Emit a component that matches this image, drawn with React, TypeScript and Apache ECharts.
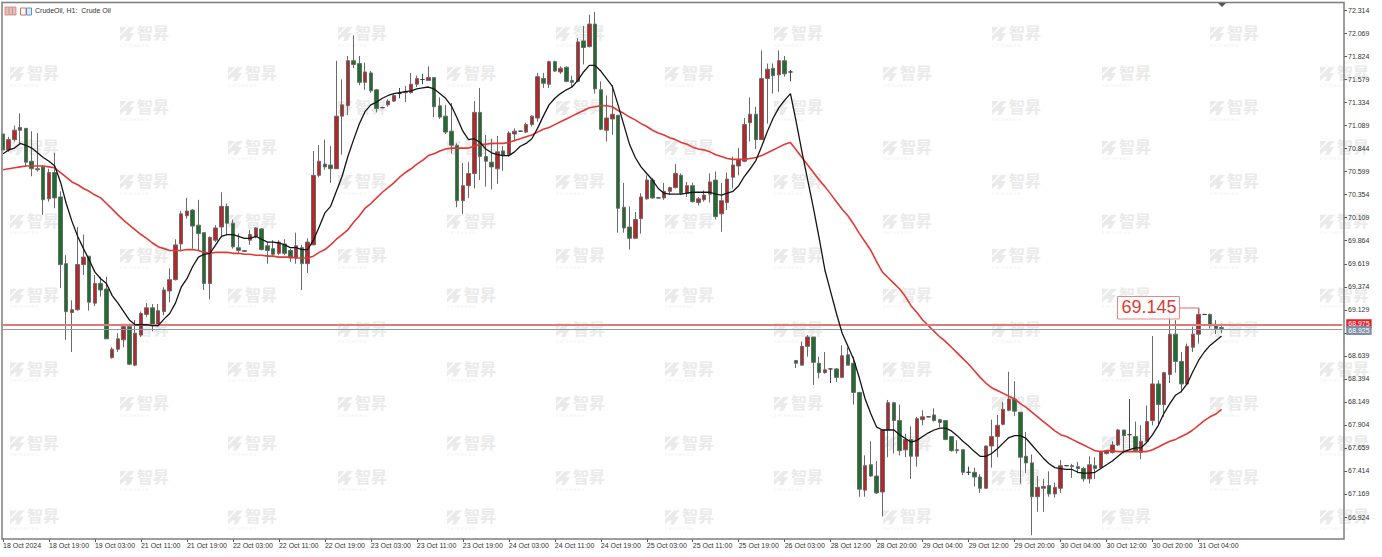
import React, { useEffect, useRef } from "react";
import * as echarts from "echarts";

// Bar rows: open, close, low, high
const candles: number[][] = [
[71.00,70.83,70.83,71.00],[70.83,70.94,70.81,70.97],[70.94,71.04,70.92,71.09],[71.04,71.07,70.90,71.22],[71.06,70.70,70.65,71.06],
[70.71,70.63,70.55,71.03],[70.63,70.62,70.60,71.01],[70.65,70.30,70.14,70.67],[70.31,70.59,70.28,70.63],[70.59,70.32,70.21,70.80],
[70.33,69.61,69.36,70.39],[69.62,69.11,68.81,69.71],[69.10,69.13,68.68,69.23],[69.13,69.61,69.12,70.01],[69.61,69.69,69.50,69.93],
[69.70,69.21,69.12,69.70],[69.20,69.41,69.17,69.50],[69.41,69.34,69.27,69.48],[69.35,68.82,68.82,69.48],[68.62,68.71,68.61,68.73],
[68.71,68.82,68.68,68.88],[68.81,68.95,68.73,68.96],[68.95,68.55,68.54,68.98],[68.54,68.88,68.53,69.02],[68.86,69.09,68.84,69.11],
[69.08,69.15,69.05,69.20],[69.15,68.96,68.90,69.19],[68.96,69.12,68.95,69.19],[69.11,69.34,69.07,69.37],[69.33,69.45,69.21,69.57],
[69.45,69.82,69.44,69.88],[69.83,70.15,69.75,70.18],[70.13,70.18,70.10,70.32],[70.19,70.02,69.78,70.20],[70.03,69.94,69.75,70.30],
[69.95,69.41,69.34,69.95],[69.41,69.90,69.24,69.91],[69.87,70.00,69.85,70.03],[70.01,70.23,69.91,70.38],[70.23,70.05,69.93,70.26],
[70.05,69.80,69.78,70.09],[69.79,69.76,69.73,69.94],[69.76,69.75,69.75,69.76],[69.87,69.93,69.82,69.98],[69.91,70.00,69.89,70.01],
[69.99,69.77,69.76,70.00],[69.81,69.76,69.62,69.85],[69.78,69.72,69.70,69.87],[69.73,69.85,69.71,69.87],[69.83,69.73,69.71,69.88],
[69.76,69.68,69.64,69.78],[69.68,69.81,69.62,69.95],[69.79,69.62,69.34,69.82],[69.62,69.85,69.52,69.89],[69.82,70.56,69.82,70.82],
[70.56,70.71,70.54,70.88],[70.68,70.65,70.62,70.94],[70.67,70.63,70.48,70.87],[70.63,71.19,70.63,71.78],[71.19,71.31,70.78,71.58],
[71.30,71.78,71.20,71.83],[71.78,71.74,71.70,72.05],[71.75,71.55,71.52,71.83],[71.55,71.66,71.47,71.76],[71.65,71.46,71.44,71.67],
[71.47,71.27,71.23,71.48],[71.28,71.28,71.28,71.29],[71.31,71.35,71.29,71.37],[71.35,71.41,71.34,71.43],[71.43,71.43,71.38,71.49],
[71.45,71.44,71.34,71.51],[71.44,71.53,71.43,71.65],[71.53,71.59,71.50,71.62],[71.58,71.58,71.53,71.64],[71.57,71.60,71.57,71.72],
[71.60,71.29,71.18,71.60],[71.30,71.18,71.16,71.39],[71.19,71.02,71.00,71.31],[71.03,70.88,70.79,71.33],[70.88,70.29,70.22,70.90],
[70.29,70.45,70.15,70.69],[70.45,70.58,70.32,70.70],[70.58,71.23,70.42,71.35],[71.23,70.76,70.51,71.49],[70.76,70.71,70.44,70.99],
[70.70,70.65,70.41,70.95],[70.63,70.81,70.47,70.98],[70.82,70.77,70.61,70.87],[70.78,71.01,70.76,71.03],[71.00,71.03,70.92,71.06],
[71.03,71.03,71.03,71.03],[71.02,71.10,71.01,71.12],[71.10,71.19,71.08,71.20],[71.17,71.61,71.13,71.65],[71.59,71.54,71.49,71.65],
[71.53,71.77,71.49,71.78],[71.77,71.67,71.66,71.78],[71.66,71.70,71.64,71.72],[71.71,71.56,71.55,71.72],[71.57,71.55,71.50,71.62],
[71.56,71.98,71.55,72.02],[71.99,71.92,71.74,72.15],[71.93,72.17,71.92,72.27],[72.17,71.48,71.43,72.30],[71.47,71.05,71.04,71.56],
[71.04,71.17,70.92,71.41],[71.16,71.21,70.99,71.52],[71.20,70.21,69.95,71.20],[70.22,70.00,69.95,70.48],[70.01,69.89,69.77,70.23],
[69.89,70.09,69.89,70.17],[70.10,70.33,69.94,70.37],[70.31,70.51,70.30,70.56],[70.51,70.32,70.31,70.53],[70.32,70.32,70.32,70.32],
[70.32,70.39,70.30,70.48],[70.39,70.43,70.35,70.44],[70.43,70.58,70.42,70.68],[70.56,70.37,70.35,70.58],[70.37,70.45,70.33,70.49],
[70.45,70.28,70.27,70.48],[70.27,70.31,70.24,70.33],[70.30,70.35,70.28,70.40],[70.36,70.49,70.27,70.58],[70.51,70.12,70.09,70.60],
[70.15,70.29,69.96,70.48],[70.27,70.52,70.19,70.59],[70.54,70.67,70.42,70.76],[70.66,70.73,70.56,70.85],[70.71,71.10,70.70,71.17],
[71.12,71.21,70.92,71.39],[71.21,70.94,70.84,71.29],[70.94,71.59,70.94,71.89],[71.59,71.69,71.11,71.75],[71.70,71.62,71.43,71.75],
[71.63,71.78,71.45,71.89],[71.78,71.64,71.61,71.83],[71.66,71.66,71.56,71.68],[68.59,68.56,68.51,68.59],[68.54,68.74,68.54,68.79],
[68.74,68.84,68.63,68.86],[68.84,68.57,68.33,68.84],[68.56,68.46,68.40,68.63],[68.46,68.49,68.45,68.68],[68.50,68.50,68.35,68.50],
[68.50,68.41,68.36,68.51],[68.41,68.64,68.40,68.75],[68.65,68.54,68.54,68.73],[68.56,68.25,68.12,68.63],[68.25,67.22,67.14,68.25],
[67.21,67.47,67.14,67.58],[67.48,67.36,67.35,67.73],[67.36,67.18,67.17,67.52],[67.19,67.85,66.93,67.85],[67.85,68.14,67.56,68.17],
[68.14,67.95,67.60,68.15],[67.95,67.63,67.58,68.12],[67.64,67.75,67.56,67.81],[67.75,67.57,67.33,67.89],[67.57,67.97,67.46,67.99],
[67.96,67.99,67.90,68.06],[67.99,67.99,67.99,67.99],[68.01,67.95,67.94,68.08],[67.96,67.93,67.88,67.97],[67.95,67.75,67.74,67.95],
[67.78,67.63,67.62,67.78],[67.64,67.63,67.60,67.74],[67.64,67.40,67.37,67.64],[67.40,67.40,67.37,67.46],[67.40,67.35,67.25,67.45],
[67.35,67.23,67.18,67.38],[67.23,67.68,67.23,67.68],[67.68,67.78,67.45,67.96],[67.78,67.90,67.56,68.01],[67.91,68.07,67.90,68.15],
[68.06,68.18,68.05,68.47],[68.18,68.05,68.00,68.37],[68.04,67.56,67.28,68.04],[67.57,67.50,67.39,67.83],[67.50,67.14,66.73,67.59],
[67.14,67.24,66.98,67.36],[67.23,67.25,66.98,67.33],[67.26,67.17,67.14,67.41],[67.17,67.24,67.13,67.29],[67.23,67.47,67.18,67.53],
[67.47,67.47,67.47,67.47],[67.47,67.46,67.34,67.49],[67.46,67.44,67.39,67.51],[67.44,67.33,67.30,67.46],[67.33,67.48,67.28,67.57],
[67.47,67.44,67.33,67.56],[67.45,67.62,67.44,67.63],[67.60,67.63,67.59,67.64],[67.61,67.69,67.60,67.73],[67.69,67.85,67.68,67.86],
[67.85,67.79,67.60,67.85],[67.80,67.80,67.65,68.18],[67.78,67.63,67.62,67.94],[67.61,67.73,67.54,67.90],[67.73,67.94,67.72,68.11],
[67.95,68.34,67.90,68.85],[68.34,68.12,67.90,68.38],[68.12,68.46,67.99,68.47],[68.44,68.87,68.35,69.12],[68.87,68.58,68.46,69.02],
[68.58,68.34,68.25,68.68],[68.34,68.74,68.33,68.77],[68.73,68.87,68.68,68.95],[68.87,69.08,68.77,69.145],[69.08,69.08,69.08,69.08],
[69.08,68.96,68.93,69.09],[68.97,68.93,68.87,69.02],[68.94,68.93,68.88,68.98],
];

const blackLine: number[] = [
70.79,70.83,70.85,70.90,70.88,70.85,70.80,70.75,70.71,70.66,70.49,70.26,70.07,69.91,69.78,69.66,69.53,69.46,69.41,69.28,69.20,69.11,69.02,68.97,68.97,68.97,68.96,68.96,69.03,69.09,69.20,69.37,
69.46,69.59,69.69,69.72,69.73,69.82,69.91,69.93,69.93,69.91,69.89,69.89,69.91,69.88,69.85,69.85,69.84,69.82,69.79,69.79,69.77,69.77,69.87,70.01,70.16,70.23,70.39,70.55,70.76,
70.94,71.11,71.24,71.31,71.34,71.38,71.41,71.43,71.44,71.45,71.46,71.48,71.49,71.50,71.48,71.43,71.38,71.30,71.17,71.03,70.94,70.95,70.91,70.84,70.80,70.78,70.77,70.77,70.81,70.87,70.90,70.95,71.06,71.19,71.31,71.38,71.43,71.47,71.50,71.57,71.66,71.73,71.73,71.67,71.59,71.51,71.31,71.10,70.89,70.75,70.65,70.58,70.51,70.42,70.37,70.36,70.36,70.36,70.37,70.38,70.38,
70.38,70.38,70.36,70.35,70.37,70.39,70.45,70.55,70.63,70.72,70.87,71.03,71.17,71.28,71.36,71.43,
71.13,70.81,70.51,70.21,69.89,69.55,
69.32,69.09,68.88,68.74,68.60,68.40,68.18,68.02,67.88,67.85,67.85,67.85,67.80,67.76,67.72,67.74,67.78,67.82,67.85,67.87,67.87,67.84,67.79,67.73,67.68,67.62,67.57,67.57,67.60,67.65,67.71,67.77,67.79,67.79,67.76,67.69,67.62,67.55,67.49,67.45,67.44,67.43,67.43,67.40,67.39,67.39,67.40,67.44,
67.48,67.52,67.57,67.62,67.64,67.66,67.66,67.72,67.80,67.90,68.03,68.13,68.22,68.26,68.34,68.47,68.59,68.68,68.75,68.80,68.85,
];

const redLine: number[] = [
70.62,70.63,70.64,70.65,70.66,70.66,70.66,70.66,70.65,70.64,70.59,70.54,70.49,70.46,70.42,70.39,70.35,70.32,70.26,70.20,70.14,70.08,70.03,69.98,69.93,69.89,69.84,69.80,69.78,69.76,69.76,69.76,69.77,69.77,69.76,69.74,69.73,69.74,69.74,69.74,69.73,69.73,69.72,69.72,69.71,69.71,69.70,69.70,69.69,69.69,69.69,69.68,69.68,69.68,69.70,69.74,69.77,69.82,69.88,69.93,69.98,
70.06,70.13,70.21,70.26,70.32,70.38,70.43,70.48,70.54,70.59,70.63,70.68,70.72,70.77,70.79,70.82,70.84,70.85,70.85,70.85,70.85,70.87,70.89,70.89,70.90,70.90,70.90,70.91,70.93,70.95,70.97,70.99,71.02,71.05,71.07,71.10,71.13,71.16,71.19,71.22,71.25,71.28,71.29,71.30,71.30,71.29,71.25,71.22,71.18,71.15,71.11,71.08,71.04,71.01,70.99,70.96,70.94,70.91,70.89,70.86,70.84,
70.83,70.81,70.78,70.76,70.74,70.73,70.73,70.73,70.74,70.75,70.77,70.80,70.83,70.86,70.89,70.91,
70.83,70.75,70.67,70.59,70.51,70.44,70.36,70.28,70.20,70.13,70.04,69.94,69.85,69.76,69.64,69.53,
69.47,69.41,69.35,69.27,69.17,69.10,69.02,68.96,68.90,68.84,68.79,68.73,68.67,68.61,68.55,68.48,68.41,68.35,68.30,68.27,68.24,68.21,68.18,68.13,68.09,68.04,67.99,67.94,67.89,67.84,67.80,67.78,67.75,67.72,67.69,67.66,67.63,67.62,
67.63,67.63,67.62,67.62,67.62,67.62,67.62,67.62,67.64,67.67,67.70,67.73,67.75,67.78,67.81,67.85,67.90,67.95,67.99,68.02,68.07,
];

const xTickLabels = [
  "18 Oct 2024", "18 Oct 19:00", "19 Oct 03:00", "21 Oct 11:00", "21 Oct 19:00", "22 Oct 03:00", "22 Oct 11:00",
  "22 Oct 19:00", "23 Oct 03:00", "23 Oct 11:00", "23 Oct 19:00", "24 Oct 03:00", "24 Oct 11:00", "24 Oct 19:00",
  "25 Oct 03:00", "25 Oct 11:00", "25 Oct 19:00", "26 Oct 03:00", "28 Oct 12:00", "28 Oct 20:00", "29 Oct 04:00",
  "29 Oct 12:00", "29 Oct 20:00", "30 Oct 04:00", "30 Oct 12:00", "30 Oct 20:00", "31 Oct 04:00",
];
const yTicks = [
  72.314, 72.069, 71.824, 71.579, 71.334, 71.089, 70.844, 70.599, 70.354, 70.109, 69.864, 69.619,
  69.374, 69.129, 68.884, 68.639, 68.394, 68.149, 67.904, 67.659, 67.414, 67.169, 66.924,
];
const askPrice = 68.975;
const bidPrice = 68.925;
const peakLabel = "69.145";
const chartTitle = "CrudeOil, H1:  Crude Oil";

const BARS_PER_TICK = 8;
const CATEGORY_COUNT = 234;
const categories = Array.from({ length: CATEGORY_COUNT }, (_, i) =>
  i % BARS_PER_TICK === 0 ? xTickLabels[i / BARS_PER_TICK] ?? "" : ""
);

const AXIS_FONT = "Liberation Sans";
const isTick = (i: number) => i % BARS_PER_TICK === 0 && !!xTickLabels[i / BARS_PER_TICK];

function watermarks() {
  const out: any[] = [];
  const color = "#eaeaea";
  const put = (x: number, y: number) => {
    out.push({ type: "polygon", z: -1, silent: true, shape: { points: [[x, y + 1], [x + 7, y + 1], [x, y + 8]] }, style: { fill: color } });
    out.push({ type: "polygon", z: -1, silent: true, shape: { points: [[x, y + 10], [x + 9, y + 1], [x + 15, y + 1], [x + 9, y + 7], [x + 14, y + 7], [x + 9, y + 15], [x + 5, y + 15], [x + 7, y + 11], [x + 4, y + 11], [x, y + 15]] }, style: { fill: color } });
    out.push({ type: "text", z: -1, silent: true, x: x + 17, y: y - 2, style: { text: "智昇", fill: color, font: "bold 16px 'Noto Sans CJK SC'" } });
    out.push({ type: "text", z: -1, silent: true, x, y: y + 17, style: { text: "Z H I S H E N G", fill: "#efefef", font: "4px 'Liberation Sans'" } });
  };
  for (let r = 0; r < 7; r++) {
    for (let c = 0; c < 6; c++) put(Math.round(120 + 218 * c), 26 + 74 * r);
    for (let c = 0; c < 7; c++) put(Math.round(10 + 218.3 * c), 66 + 73.9 * r);
  }
  return out;
}

function chrome() {
  const red = "#de3a34";
  return [
    { type: "rect", z: 50, silent: true, shape: { x: 2, y: 2.5, width: 1342, height: 536.5 }, style: { fill: "none", stroke: "#7d7d7d", lineWidth: 1.5 } },
    { type: "polygon", z: 51, silent: true, shape: { points: [[1218, 3], [1226, 3], [1222, 7]] }, style: { fill: "#555" } },
    // title icons
    { type: "rect", z: 51, silent: true, shape: { x: 5, y: 7, width: 11, height: 8 }, style: { fill: "#f4b9a8", stroke: "#d8705a", lineWidth: 0.7 } },
    { type: "line", z: 51, silent: true, shape: { x1: 9, y1: 7, x2: 9, y2: 15 }, style: { stroke: "#7fa4d8", lineWidth: 1 } },
    { type: "line", z: 51, silent: true, shape: { x1: 12.5, y1: 7, x2: 12.5, y2: 15 }, style: { stroke: "#7fa4d8", lineWidth: 1 } },
    { type: "rect", z: 51, silent: true, shape: { x: 20.5, y: 8, width: 5.5, height: 7 }, style: { fill: "#fff", stroke: "#d8705a", lineWidth: 1 } },
    { type: "rect", z: 51, silent: true, shape: { x: 26.5, y: 8, width: 5, height: 7 }, style: { fill: "#dfeaf7", stroke: "#5c8fd0", lineWidth: 1 } },
    { type: "text", z: 51, silent: true, x: 35, y: 7, style: { text: chartTitle, fill: "#333", font: `7px '${AXIS_FONT}'` } },
    // peak annotation
    { type: "polyline", z: 60, silent: true, shape: { points: [[1179.5, 308], [1199, 308], [1199, 314]] }, style: { fill: "none", stroke: "#e06a64", lineWidth: 1 } },
    { type: "rect", z: 60, silent: true, shape: { x: 1117.5, y: 296.5, width: 62, height: 22.5 }, style: { fill: "#ffffff", fillOpacity: 0.85, stroke: "#e58a85", lineWidth: 1 } },
    { type: "text", z: 61, silent: true, x: 1121.5, y: 298, style: { text: peakLabel, fill: red, font: `18px '${AXIS_FONT}'` } },
  ];
}

export default function App() {
  const ref = useRef<HTMLDivElement>(null);
  useEffect(() => {
    const chart = echarts.init(ref.current!, undefined, { renderer: "svg" });
    const option: any = {
      animation: false,
      backgroundColor: "#ffffff",
      graphic: { elements: [...watermarks(), ...chrome()] },
      grid: { left: 2.5, top: 3, width: 1339.75, height: 536, containLabel: false },
      xAxis: {
        type: "category",
        data: categories,
        boundaryGap: false,
        axisLine: { show: false },
        splitLine: { show: false },
        axisTick: { show: true, length: 3, interval: (i: number) => isTick(i), lineStyle: { color: "#555", width: 1 } },
        axisLabel: {
          show: true,
          interval: (i: number) => isTick(i),
          align: "left",
          margin: 3,
          fontSize: 7,
          fontFamily: AXIS_FONT,
          color: "#333",
          hideOverlap: false,
        },
      },
      yAxis: {
        type: "value",
        position: "right",
        offset: 1.75,
        min: 66.69,
        max: 72.394,
        scale: true,
        axisLine: { show: false },
        splitLine: { show: false },
        axisTick: { show: true, length: 3, customValues: yTicks, lineStyle: { color: "#555", width: 1 } },
        axisLabel: {
          show: true,
          customValues: yTicks,
          formatter: (v: number) => v.toFixed(3),
          margin: 4,
          fontSize: 7,
          fontFamily: AXIS_FONT,
          color: "#333",
          showMinLabel: true,
          showMaxLabel: true,
        },
      },
      series: [
        {
          name: "Crude Oil",
          type: "candlestick",
          data: candles,
          barWidth: 4,
          silent: true,
          itemStyle: {
            color: "#b8262a",
            color0: "#1e6e2e",
            borderColor: "#6a6a6a",
            borderColor0: "#6a6a6a",
            borderColorDoji: "#444",
            borderWidth: 1,
          },
          markLine: {
            silent: true,
            symbol: "none",
            animation: false,
            data: [
              {
                yAxis: askPrice,
                lineStyle: { color: "#e07a78", width: 2, type: "solid" },
                label: { show: true, position: "end", distance: 4, offset: [0, -1], formatter: askPrice.toFixed(3), color: "#fff", fontSize: 7, fontFamily: AXIS_FONT, backgroundColor: "#e5222a", padding: [1, 2] },
              },
              {
                yAxis: bidPrice,
                lineStyle: { color: "#8b9bae", width: 1, type: "solid" },
                label: { show: true, position: "end", distance: 4, offset: [0, 1], formatter: bidPrice.toFixed(3), color: "#fff", fontSize: 7, fontFamily: AXIS_FONT, backgroundColor: "#7d8fa6", padding: [1, 2] },
              },
            ],
          },
        },
        {
          name: "MA slow",
          type: "line",
          data: redLine,
          symbol: "none",
          silent: true,
          lineStyle: { color: "#df3a36", width: 1.6 },
          z: 4,
        },
        {
          name: "MA fast",
          type: "line",
          data: blackLine,
          symbol: "none",
          silent: true,
          lineStyle: { color: "#141414", width: 1.3 },
          z: 5,
        },
      ],
    };
    chart.setOption(option);
    return () => chart.dispose();
  }, []);
  return <div ref={ref} style={{ position: "fixed", left: 0, top: 0, width: 1382, height: 557 }} />;
}
